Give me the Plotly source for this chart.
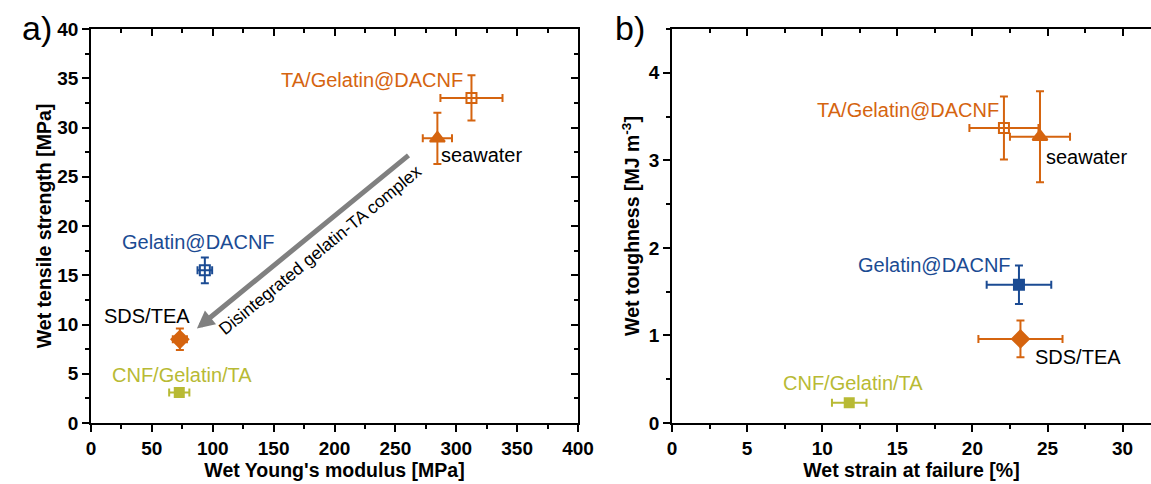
import plotly.graph_objects as go

# ---------------- data ----------------
names = ["TA/Gelatin@DACNF", "seawater", "Gelatin@DACNF", "SDS/TEA", "CNF/Gelatin/TA"]

# panel a: Young's modulus [MPa] vs tensile strength [MPa]
mod = [312.5, 284.5, 93.5, 73.0, 72.5]
mod_err = [25.5, 12.0, 6.0, 5.8, 8.3]
ts = [33.0, 28.9, 15.5, 8.5, 3.1]
ts_err = [2.3, 2.6, 1.3, 1.1, 0.3]

# panel b: strain at failure [%] vs toughness [MJ m^-3]
strain = [22.1, 24.5, 23.1, 23.2, 11.8]
strain_err = [2.3, 2.0, 2.15, 2.8, 1.15]
tough = [3.37, 3.27, 1.58, 0.96, 0.23]
tough_err = [0.36, 0.52, 0.22, 0.21, 0.02]

ORANGE = "#D5640F"
BLUE = "#1B4B93"
OLIVE = "#B8BA34"
colors = [ORANGE, ORANGE, BLUE, ORANGE, OLIVE]
symbols = ["square-open", "triangle-up", "square-open", "diamond", "square"]
symbols_b = ["square-open", "triangle-up", "square", "diamond", "square"]
msize = [10, 13, 10, 13, 9]
label_colors = [ORANGE, "black", BLUE, "black", OLIVE]

W, H = 1151, 484
FONT = "Liberation Sans"

fig = go.Figure()

def add_points(xs, xe, ys, ye, syms, xa, ya):
    for i in range(len(xs)):
        fig.add_trace(go.Scatter(
            x=[xs[i]], y=[ys[i]], mode="markers",
            marker=dict(symbol=syms[i], size=msize[i], color=colors[i],
                        line=dict(color=colors[i], width=2)),
            error_x=dict(type="data", array=[xe[i]], color=colors[i], thickness=2, width=4),
            error_y=dict(type="data", array=[ye[i]], color=colors[i], thickness=2, width=4),
            xaxis=xa, yaxis=ya, showlegend=False, cliponaxis=False))

add_points(mod, mod_err, ts, ts_err, symbols, "x", "y")
add_points(strain, strain_err, tough, tough_err, symbols_b, "x2", "y2")

# invisible traces for mirrored (inward tick) axes
fig.add_trace(go.Scatter(x=[None], y=[None], xaxis="x3", yaxis="y3", showlegend=False))
fig.add_trace(go.Scatter(x=[None], y=[None], xaxis="x4", yaxis="y4", showlegend=False))

def px(xpix):
    return xpix / W

ybot = (H - 423) / H
ytop = (H - 29) / H
dom_a = [px(91), px(578)]
dom_b = [px(672), 1.0]

tickfont = dict(family=FONT, size=19, color="black", weight="bold")
titlefont = dict(family=FONT, size=19.5, color="black", weight="bold")

common = dict(showline=True, linecolor="black", linewidth=1.5, ticks="outside",
              ticklen=7, tickwidth=1.5, tickcolor="black", showgrid=False,
              zeroline=False, tickfont=tickfont, automargin=False)

mirror_common = dict(showline=True, linecolor="black", linewidth=1.5, ticks="inside", ticklen=7,
                     tickwidth=1.5, tickcolor="black", showticklabels=False, showgrid=False,
                     zeroline=False, automargin=False)

xa_range = [0, 400]
ya_range = [0, 40]
xb_range = [0, (1151 - 672) / 15.02]
yb_range = [0, 4.5]

def minor(d, kind):
    return dict(dtick=d, ticks=kind, ticklen=4, tickcolor="black", tickwidth=1.5)

fig.update_layout(
    width=W, height=H, paper_bgcolor="white", plot_bgcolor="white",
    margin=dict(l=0, r=0, t=0, b=0),
    xaxis=dict(domain=dom_a, range=xa_range, anchor="y", dtick=50, minor=minor(25, "outside"),
               title=dict(text="Wet Young's modulus [MPa]", font=titlefont, standoff=5),
               **common),
    yaxis=dict(domain=[ybot, ytop], range=ya_range, anchor="x", dtick=5, minor=minor(2.5, "outside"),
               title=dict(text="Wet tensile strength [MPa]", font=titlefont, standoff=0),
               **common),
    xaxis2=dict(domain=dom_b, range=xb_range, anchor="y2", dtick=5, minor=minor(2.5, "outside"),
                title=dict(text="Wet strain at failure [%]", font=titlefont, standoff=5),
                **common),
    yaxis2=dict(domain=[ybot, ytop], range=yb_range, anchor="x2", dtick=1, minor=minor(0.5, "outside"),
                title=dict(text="Wet toughness [MJ m<sup>-3</sup>]", font=titlefont, standoff=4),
                **common),
    xaxis3=dict(overlaying="x", side="top", anchor="y3", range=xa_range, dtick=50,
                minor=minor(25, "inside"), **mirror_common),
    yaxis3=dict(overlaying="y", side="right", anchor="x3", range=ya_range, dtick=5,
                minor=minor(2.5, "inside"), **mirror_common),
    xaxis4=dict(overlaying="x2", side="top", anchor="y4", range=xb_range, dtick=5,
                minor=minor(2.5, "inside"), **mirror_common),
    yaxis4=dict(overlaying="y2", side="right", anchor="x4", range=yb_range,
                showline=False, ticks="", showticklabels=False, showgrid=False, zeroline=False,
                automargin=False),
)

# labels (positions in data coordinates)
label_pos_a = [(231, 34.8), (321, 27.2), (88, 18.4), (46, 10.9), (75, 4.9)]
label_pos_b = [(15.7, 3.58), (27.6, 3.04), (17.5, 1.81), (27.0, 0.75), (12.05, 0.46)]

for i, n in enumerate(names):
    fig.add_annotation(x=label_pos_a[i][0], y=label_pos_a[i][1], xref="x", yref="y",
                       text=n, showarrow=False,
                       font=dict(family=FONT, size=20, color=label_colors[i]))
    fig.add_annotation(x=label_pos_b[i][0], y=label_pos_b[i][1], xref="x2", yref="y2",
                       text=n, showarrow=False,
                       font=dict(family=FONT, size=20, color=label_colors[i]))

# arrow
fig.add_annotation(x=87, y=9.6, ax=262, ay=27.3, xref="x", yref="y", axref="x", ayref="y",
                   text="", showarrow=True, arrowhead=2, arrowwidth=5, arrowsize=0.7,
                   arrowcolor="#808080")
fig.add_annotation(x=188, y=17.6, xref="x", yref="y", text="Disintegrated gelatin-TA complex",
                   showarrow=False, textangle=-39.4,
                   font=dict(family=FONT, size=17.5, color="black"))

# panel letters
fig.add_annotation(x=px(37), y=(H - 28) / H, xref="paper", yref="paper", text="a)",
                   xanchor="center", yanchor="middle",
                   showarrow=False, font=dict(family=FONT, size=34, color="black"))
fig.add_annotation(x=px(630), y=(H - 28) / H, xref="paper", yref="paper", text="b)",
                   xanchor="center", yanchor="middle",
                   showarrow=False, font=dict(family=FONT, size=34, color="black"))

fig.write_html("out.html", config={"displayModeBar": False},
               post_script="document.body.style.margin='0';document.body.style.overflow='hidden';")
